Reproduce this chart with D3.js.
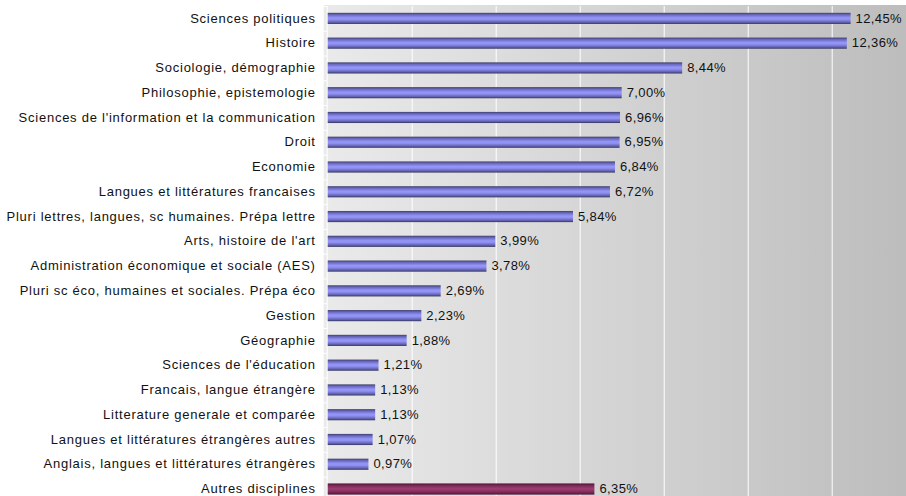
<!DOCTYPE html>
<html>
<head>
<meta charset="utf-8">
<script src="https://cdn.jsdelivr.net/npm/d3@7"></script>
<style>
  html, body { margin: 0; padding: 0; background: #fff; overflow: hidden; }
  text { font-family: "Liberation Sans", Arial, sans-serif; font-size: 13px; fill: #111; letter-spacing: 0.75px; }
</style>
</head>
<body>
<div id="chart"></div>
<script>
// disciplines, top to bottom
const categories = [
  'Sciences politiques',
  'Histoire',
  'Sociologie, démographie',
  'Philosophie, epistemologie',
  "Sciences de l'information et la communication",
  'Droit',
  'Economie',
  'Langues et littératures francaises',
  'Pluri lettres, langues, sc humaines. Prépa lettre',
  "Arts, histoire de l'art",
  'Administration économique et sociale (AES)',
  'Pluri sc éco, humaines et sociales. Prépa éco',
  'Gestion',
  'Géographie',
  "Sciences de l'éducation",
  'Francais, langue étrangère',
  'Litterature generale et comparée',
  'Langues et littératures étrangères autres',
  'Anglais, langues et littératures étrangères',
  'Autres disciplines'
]
const values = [12.45, 12.36, 8.44, 7.00, 6.96, 6.95, 6.84, 6.72, 5.84, 3.99,
  3.78, 2.69, 2.23, 1.88, 1.21, 1.13, 1.13, 1.07, 0.97, 6.35]
const xTicks = [0, 2, 4, 6, 8, 10, 12, 14]

const width = 906
const height = 496
const margin = {top: 6, left: 327.7}
const plotW = 588
const plotH = 495.4

const data = categories.map((c, i) => ({cat: c, value: values[i], other: c === 'Autres disciplines'}))

const svg = d3.select('#chart').append('svg')
  .attr('width', width)
  .attr('height', height)

const defs = svg.append('defs')

// plot background, light on the left, darker to the right
const bg = defs.append('linearGradient').attr('id', 'bg')
  .attr('x1', 0).attr('x2', 1).attr('y1', 0).attr('y2', 0)
bg.append('stop').attr('offset', '0%').attr('stop-color', '#eaeaea')
bg.append('stop').attr('offset', '100%').attr('stop-color', '#bcbcbc')

// cylinder look for the bars
function barGradient (id, stops) {
  const g = defs.append('linearGradient').attr('id', id)
    .attr('x1', 0).attr('x2', 0).attr('y1', 0).attr('y2', 1)
  stops.forEach(s => g.append('stop').attr('offset', s[0]).attr('stop-color', s[1]))
}
barGradient('blue', [['0%', '#3e3e6c'], ['18%', '#6a6ac0'], ['45%', '#9696fa'], ['60%', '#9090f2'], ['85%', '#6262b0'], ['100%', '#34345c']])
barGradient('plum', [['0%', '#4c1430'], ['18%', '#7a2856'], ['45%', '#9a3c70'], ['60%', '#94386a'], ['85%', '#72244e'], ['100%', '#44102a']])

const x = d3.scaleLinear().domain([0, 14]).range([0, plotW])
const y = d3.scaleBand().domain(categories).range([0, plotH])
  .paddingInner(0.55).paddingOuter(0.275)

const g = svg.append('g').attr('transform', `translate(${margin.left},${margin.top})`)

g.append('rect')
  .attr('x', -4).attr('y', -1)
  .attr('width', plotW + 4).attr('height', plotH + 1)
  .attr('fill', 'url(#bg)')

// vertical grid
g.append('g')
  .selectAll('line')
  .data(xTicks.slice(1))
  .join('line')
  .attr('x1', d => Math.round(x(d)) + 0.5)
  .attr('x2', d => Math.round(x(d)) + 0.5)
  .attr('y1', 0)
  .attr('y2', plotH)
  .attr('stroke', '#fff')
  .attr('stroke-width', 1)

// category axis: ticks between categories
const yIdx = d3.scaleLinear().domain([0, categories.length]).range([0, plotH])
g.append('g')
  .attr('transform', 'translate(-0.5,0)')
  .call(d3.axisLeft(yIdx).tickValues(d3.range(categories.length + 1)).tickSize(4).tickFormat(''))
  .call(a => a.selectAll('line').attr('stroke', '#fff'))
  .call(a => a.select('.domain').attr('stroke', '#fff').attr('d', `M0,0V${plotH}`))

g.append('g')
  .selectAll('rect')
  .data(data)
  .join('rect')
  .attr('x', 0)
  .attr('y', d => y(d.cat))
  .attr('width', d => x(d.value))
  .attr('height', y.bandwidth())
  .attr('fill', d => d.other ? 'url(#plum)' : 'url(#blue)')

// category labels
g.append('g')
  .selectAll('text')
  .data(data)
  .join('text')
  .attr('x', -12)
  .attr('y', d => y(d.cat) + y.bandwidth() / 2)
  .attr('dy', '0.32em')
  .attr('text-anchor', 'end')
  .text(d => d.cat)

// value labels
const fmt = d3.format('.2f')
g.append('g')
  .selectAll('text')
  .data(data)
  .join('text')
  .attr('x', d => x(d.value) + 5)
  .attr('y', d => y(d.cat) + y.bandwidth() / 2)
  .attr('dy', '0.32em')
  .style('letter-spacing', '0.4px')
  .text(d => fmt(d.value).replace('.', ',') + '%')
</script>
</body>
</html>
